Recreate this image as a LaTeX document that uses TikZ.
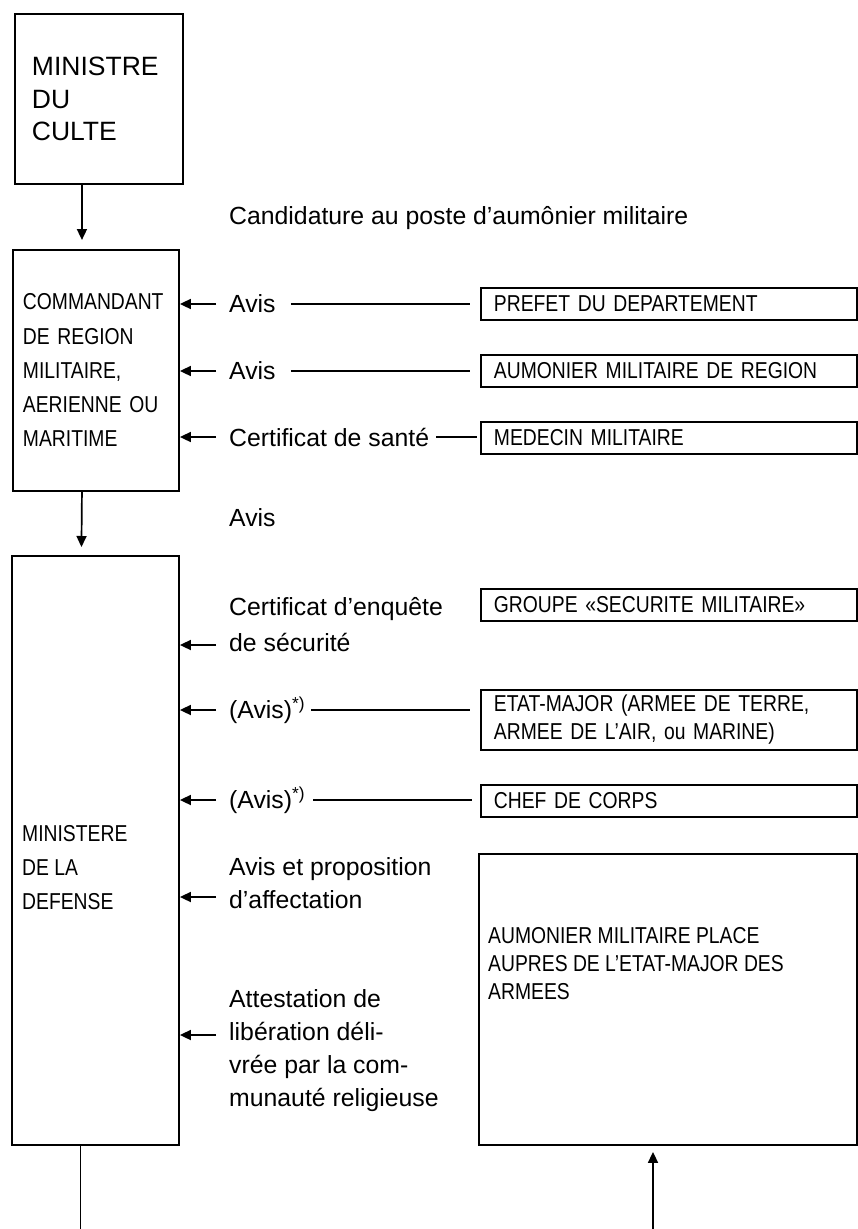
\documentclass[tikz,border=0pt]{standalone}
\usepackage{fontspec}
\setmainfont{Liberation Sans}
\newfontfamily\narrowfont{Liberation Sans}[FakeStretch=0.84]
\usetikzlibrary{arrows.meta,calc}

\begin{document}
\begin{tikzpicture}
    [x=1pt, y=-1pt,
    box/.style={draw, line width=1.9pt, anchor=north west, inner sep=0pt},
    rbox/.style={draw, line width=1.9pt, anchor=west, minimum height=32pt, text width=350pt,
        inner xsep=13pt, inner ysep=0pt, align=left, font=\narrowfont\fontsize{23}{28}\selectfont},
    lbl/.style={anchor=west, inner sep=0pt, align=left, font=\fontsize{24.8}{33}\selectfont},
    txt/.style={anchor=west, inner sep=0pt, align=left, font=\narrowfont\fontsize{23}{34}\selectfont},
    edge/.style={line width=1.7pt},
    arr/.style={line width=1.7pt, -{Triangle[length=11pt, width=10pt]}}]

    \useasboundingbox (0,0) rectangle (857,1229);

    % left column
    \node[box, minimum width=168pt, minimum height=170pt, text width=134pt, inner xsep=17pt,
        align=left, font=\fontsize{26.5}{32.5}\selectfont] (culte) at (14,13) {MINISTRE\\DU\\CULTE};
    \node[box, minimum width=166pt, minimum height=241pt, text width=146pt, inner xsep=10pt,
        align=left, font=\narrowfont\fontsize{23}{34.25}\selectfont] (cmd) at (12,249)
        {COMMANDANT\\DE REGION\\MILITAIRE,\\AERIENNE OU\\MARITIME};
    \node[box, minimum width=167pt, minimum height=589pt] (def) at (11,555) {};
    \node[txt] (deftxt) at (22,868) {MINISTERE\\DE LA\\DEFENSE};

    % labels
    \node[lbl] (cand) at (229,218) {Candidature au poste d’aumônier militaire};
    \node[lbl] (avis1) at (229,304) {Avis};
    \node[lbl] (avis2) at (229,371) {Avis};
    \node[lbl] (sante) at (229,437) {Certificat de santé};
    \node[lbl] (avis3) at (229,518) {Avis};
    \node[lbl, font=\fontsize{24.8}{36}\selectfont] (enq) at (229,625) {Certificat d’enquête\\de sécurité};
    \node[lbl] (avis4) at (229,710) {(Avis)\textsuperscript{*)}};
    \node[lbl] (avis5) at (229,800) {(Avis)\textsuperscript{*)}};
    \node[lbl] (prop) at (229,883) {Avis et proposition\\d’affectation};
    \node[lbl] (attest) at (229,1051) {Attestation de\\libération déli-\\vrée par la com-\\munauté religieuse};

    % right column
    \node[rbox] (prefet) at (480,304) {PREFET DU DEPARTEMENT};
    \node[rbox] (aumreg) at (480,371) {AUMONIER MILITAIRE DE REGION};
    \node[rbox] (medecin) at (480,438) {MEDECIN MILITAIRE};
    \node[rbox] (groupe) at (480,605) {GROUPE «SECURITE MILITAIRE»};
    \node[rbox, minimum height=60pt] (etat) at (480,720) {ETAT-MAJOR (ARMEE DE TERRE,\\ARMEE DE L’AIR, ou MARINE)};
    \node[rbox] (chef) at (480,801) {CHEF DE CORPS};
    \node[box, minimum width=378pt, minimum height=291pt] (place) at (478,853) {};
    \node[txt, font=\narrowfont\fontsize{23}{28}\selectfont] (placetxt) at (488,964)
        {AUMONIER MILITAIRE PLACE\\AUPRES DE L’ETAT-MAJOR DES\\ARMEES};

    % arrow tails
    \foreach \n/\y in {t1/304, t2/371, t3/437}
        \coordinate (\n) at (216,\y);
    \foreach \n/\y in {t4/645, t5/710, t6/800, t7/897, t8/1035}
        \coordinate (\n) at (216,\y);
    \coordinate (out) at (80.5,1229);
    \coordinate (in) at (653,1229);

    \foreach \n in {t1,t2,t3}
        \draw[arr] (\n) -- (\n -| cmd.east);
    \foreach \n in {t4,t5,t6,t7,t8}
        \draw[arr] (\n) -- (\n -| def.east);

    \draw[edge] ($(avis1.east)+(15,0)$) -- ($(avis1.east -| prefet.west)+(-10,0)$);
    \draw[edge] ($(avis2.east)+(15,0)$) -- ($(avis2.east -| aumreg.west)+(-10,0)$);
    \draw[edge] ($(sante.east)+(7,0)$) -- ($(sante.east -| medecin.west)+(-3,0)$);
    \draw[edge] ($(avis4.east |- t5)+(6,0)$) -- ($(t5 -| etat.west)+(-10,0)$);
    \draw[edge] ($(avis5.east |- t6)+(8,0)$) -- ($(t6 -| chef.west)+(-8,0)$);

    \draw[arr] ($(culte.south)+(-17,0)$) -- ($(cmd.north)+(-14,-9)$);
    \draw[arr] ($(cmd.south)+(-14,0)$) -- ($(def.north)+(-14,-8)$);
    \draw[edge] (out |- def.south) -- (out);
    \draw[arr] (in) -- ($(in |- place.south)+(0,6)$);
\end{tikzpicture}
\end{document}
